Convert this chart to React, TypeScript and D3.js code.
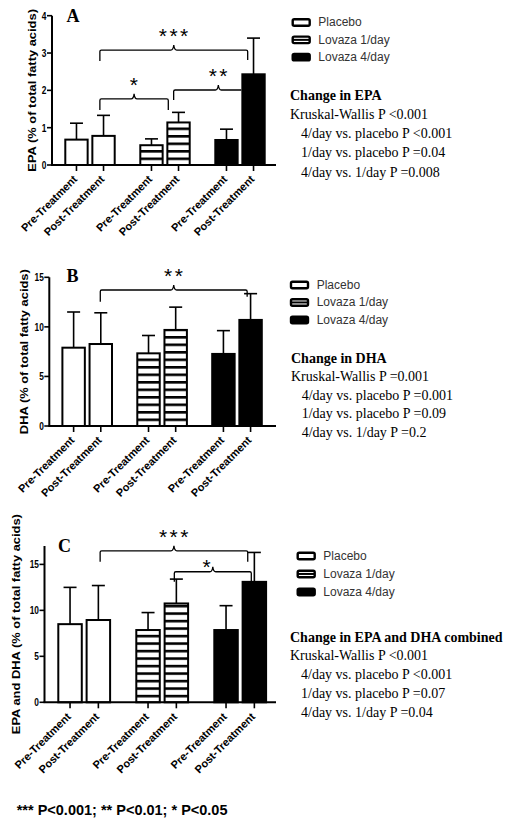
import React from 'react';
import * as d3 from 'd3';

const groups = ['Placebo', 'Lovaza 1/day', 'Lovaza 4/day'];
const timepoints = ['Pre-Treatment', 'Post-Treatment'];

const epaMeans = [0.68, 0.78, 0.53, 1.14, 0.67, 2.43];
const epaSD = [0.44, 0.55, 0.17, 0.27, 0.29, 0.97];
const dhaMeans = [7.9, 8.27, 7.33, 9.69, 7.27, 10.7];
const dhaSD = [3.6, 3.15, 1.8, 2.3, 2.35, 2.65];
const combMeans = [8.5, 8.95, 7.86, 10.75, 7.86, 13.1];
const combSD = [4.0, 3.75, 1.9, 2.65, 2.65, 3.2];

const epaTicks = [0, 1, 2, 3, 4];
const dhaTicks = [0, 5, 10, 15];
const combTicks = [0, 5, 10, 15];

const epaStats = ['Kruskal-Wallis P <0.001', '4/day vs. placebo P <0.001', '1/day vs. placebo P =0.04', '4/day vs. 1/day P =0.008'];
const dhaStats = ['Kruskal-Wallis P =0.001', '4/day vs. placebo P =0.001', '1/day vs. placebo P =0.09', '4/day vs. 1/day P =0.2'];
const combStats = ['Kruskal-Wallis P <0.001', '4/day vs. placebo P <0.001', '1/day vs. placebo P =0.07', '4/day vs. 1/day P =0.04'];

// brackets: bar index (group*2+time), fraction across bar, y level (data units), label
const epaBrackets = [
  { from: 1, fromFrac: 0.35, to: 5, toFrac: 0.26, y: 3.08, label: '***' },
  { from: 1, fromFrac: 0.35, to: 3, toFrac: 0.08, y: 1.77, label: '*' },
  { from: 3, fromFrac: 0.3, to: 5, toFrac: 0.0, y: 2.01, label: '**' },
];
const dhaBrackets = [
  { from: 1, fromFrac: 0.48, to: 5, toFrac: 0.36, y: 13.72, label: '**' },
];
const combBrackets = [
  { from: 1, fromFrac: 0.57, to: 5, toFrac: 0.24, y: 16.48, label: '***' },
  { from: 3, fromFrac: 0.42, to: 5, toFrac: 0.38, y: 14.2, label: '*' },
];

const footnote = '*** P<0.001; ** P<0.01; * P<0.05';

const SANS = 'Liberation Sans, Arial, sans-serif';
const SERIF = 'Liberation Serif, Times New Roman, serif';

type BrStyle = { dropL: number; dropR: number; mid?: number; dx?: number; dy?: number };

type PanelCfg = {
  letter: string;
  yLabel: string;
  means: number[];
  sds: number[];
  ticks: number[];
  yMax: number;
  yRange: [number, number];
  axisX: number;
  axisEnd: number;
  centers: [number, number];
  halfSpan: number;
  letterPos: [number, number];
  yLabelX: number;
  brackets: any[];
  bracketStyle: BrStyle[];
  legend: { x: number; top: number; step: number; textX: number };
  statsTitle: string;
  stats: string[];
  statsPos: { x: number; indent: number; title: number; lines: number[] };
};

const panels: PanelCfg[] = [
  {
    letter: 'A', yLabel: 'EPA (% of total fatty acids)', means: epaMeans, sds: epaSD, ticks: epaTicks, yMax: 4,
    yRange: [165, 15.7], axisX: 52, axisEnd: 276, centers: [90, 240], halfSpan: 25.7,
    letterPos: [66.5, 22], yLabelX: 32.5, brackets: epaBrackets,
    bracketStyle: [{ dropL: 11, dropR: 10 }, { dropL: 11, dropR: 11 }, { dropL: 10, dropR: 0, mid: 0.66 }],
    legend: { x: 291.7, top: 18.3, step: 17.3, textX: 318.3 },
    statsTitle: 'Change in EPA', stats: epaStats,
    statsPos: { x: 290, indent: 301, title: 100, lines: [119, 138.3, 157.3, 176.7] },
  },
  {
    letter: 'B', yLabel: 'DHA (% of total fatty acids)', means: dhaMeans, sds: dhaSD, ticks: dhaTicks, yMax: 15,
    yRange: [426, 277.3], axisX: 49.3, axisEnd: 276, centers: [87.2, 237], halfSpan: 25.8,
    letterPos: [66.5, 282], yLabelX: 24, brackets: dhaBrackets,
    bracketStyle: [{ dropL: 11.7, dropR: 6.7 }],
    legend: { x: 290, top: 280.7, step: 17.5, textX: 316.7 },
    statsTitle: 'Change in DHA', stats: dhaStats,
    statsPos: { x: 291, indent: 301.7, title: 362.7, lines: [380.7, 400, 418.3, 437.3] },
  },
  {
    letter: 'C', yLabel: 'EPA and DHA (% of total fatty acids)', means: combMeans, sds: combSD, ticks: combTicks, yMax: 17,
    yRange: [702.3, 546], axisX: 44.5, axisEnd: 276, centers: [84.2, 240.2], halfSpan: 26.9,
    letterPos: [58, 552], yLabelX: 16, brackets: combBrackets,
    bracketStyle: [{ dropL: 11, dropR: 11 }, { dropL: 10, dropR: 10, dx: -6, dy: 9 }],
    legend: { x: 296.7, top: 551.7, step: 18, textX: 323.3 },
    statsTitle: 'Change in EPA and DHA combined', stats: combStats,
    statsPos: { x: 290, indent: 301, title: 641.7, lines: [660, 679.3, 698.3, 716.7] },
  },
];

function Panel({ cfg, idx }: { cfg: PanelCfg; idx: number }) {
  const y = d3.scaleLinear().domain([0, cfg.yMax]).range(cfg.yRange);
  const gx = d3.scalePoint<string>().domain(groups).range(cfg.centers);
  const inner = d3.scaleBand<string>().domain(timepoints).range([-cfg.halfSpan, cfg.halfSpan]).paddingInner(0.1);
  const bw = inner.bandwidth();
  const bars = groups.flatMap((g, gi) => timepoints.map((t, ti) => {
    const i = gi * 2 + ti;
    const x0 = (gx(g) as number) + (inner(t) as number);
    return { g, gi, t, ti, i, x0, cx: x0 + bw / 2, mean: cfg.means[i], sd: cfg.sds[i] };
  }));
  const y0 = y(0);
  const fills = ['#fff', `url(#stripes${idx})`, '#000'];
  const yTop = y(cfg.yMax);
  const midY = (y0 + yTop) / 2;
  return (
    <g>
      <defs>
        <pattern id={`stripes${idx}`} patternUnits="userSpaceOnUse" width={8} height={7.5} y={y0}>
          <rect width={8} height={7.5} fill="#fff" />
          <rect y={0} width={8} height={2.6} fill="#000" />
        </pattern>
      </defs>
      {bars.map((b) => (
        <g key={b.i}>
          <line x1={b.cx} x2={b.cx} y1={y(b.mean)} y2={y(b.mean + b.sd)} stroke="#000" strokeWidth={1.6} />
          <line x1={b.cx - 6.5} x2={b.cx + 6.5} y1={y(b.mean + b.sd)} y2={y(b.mean + b.sd)} stroke="#000" strokeWidth={1.6} />
          <rect x={b.x0 + 1} y={y(b.mean)} width={bw - 2} height={y0 - y(b.mean)} fill={fills[b.gi]} stroke="#000" strokeWidth={2} />
        </g>
      ))}
      <line x1={cfg.axisX} x2={cfg.axisX} y1={yTop} y2={y0} stroke="#000" strokeWidth={2} />
      {cfg.ticks.map((t) => (
        <g key={t}>
          <line x1={cfg.axisX - 5} x2={cfg.axisX} y1={y(t)} y2={y(t)} stroke="#000" strokeWidth={1.6} />
          <text transform={`translate(${cfg.axisX - 5.5},${y(t)}) scale(0.78,1)`} dy="0.36em" textAnchor="end"
            fontFamily={SANS} fontWeight="bold" fontSize={10.7}>{t}</text>
        </g>
      ))}
      <line x1={cfg.axisX - 1} x2={cfg.axisEnd} y1={y0} y2={y0} stroke="#000" strokeWidth={2} />
      {bars.map((b) => (
        <g key={'xt' + b.i}>
          <line x1={b.cx} x2={b.cx} y1={y0} y2={y0 + 6} stroke="#000" strokeWidth={1.6} />
          <text transform={`translate(${b.cx + 1.5},${y0 + 15}) rotate(-45)`} textAnchor="end"
            fontFamily={SANS} fontWeight="bold" fontSize={11}>{b.t}</text>
        </g>
      ))}
      <text transform={`translate(${cfg.yLabelX},${midY}) scale(0.8,1) rotate(-90)`} textAnchor="middle" dy="0.35em"
        fontFamily={SANS} fontWeight="bold" fontSize={12.9}>{cfg.yLabel}</text>
      <text x={cfg.letterPos[0]} y={cfg.letterPos[1]} fontFamily={SERIF} fontWeight="bold" fontSize={18}>{cfg.letter}</text>
      {cfg.brackets.map((br, k) => {
        const st = cfg.bracketStyle[k];
        const bl = bars[br.from];
        const brr = bars[br.to];
        const xl = bl.x0 + br.fromFrac * bw;
        const xr = brr.x0 + br.toFrac * bw;
        const yy = y(br.y);
        const xm = xl + (st.mid ?? 0.5) * (xr - xl);
        const p = d3.path();
        p.moveTo(xl, yy + st.dropL);
        p.lineTo(xl, yy + 1.5);
        p.quadraticCurveTo(xl, yy, xl + 1.5, yy);
        p.lineTo(xm - 3, yy);
        p.quadraticCurveTo(xm - 0.5, yy, xm, yy - 5);
        p.quadraticCurveTo(xm + 0.5, yy, xm + 3, yy);
        p.lineTo(xr - 1.5, yy);
        if (st.dropR > 0) {
          p.quadraticCurveTo(xr, yy, xr, yy + 1.5);
          p.lineTo(xr, yy + st.dropR);
        } else {
          p.lineTo(xr, yy);
        }
        return (
          <g key={'br' + k}>
            <path d={p.toString()} fill="none" stroke="#000" strokeWidth={1.3} />
            <text x={xm + (st.dx || 0) + 1} y={yy - 7 + (st.dy || 0)} textAnchor="middle" fontFamily={SANS}
              fontSize={21} letterSpacing={2.5}>{br.label}</text>
          </g>
        );
      })}
      {groups.map((g, gi) => {
        const top = cfg.legend.top + gi * cfg.legend.step;
        return (
          <g key={'lg' + gi}>
            <rect x={cfg.legend.x + 1} y={top + 1} width={17} height={6.5} rx={1.5}
              fill={gi === 2 ? '#000' : '#fff'} stroke="#000" strokeWidth={2.4} />
            {gi === 1 && <line x1={cfg.legend.x + 1} x2={cfg.legend.x + 18} y1={top + 4.25} y2={top + 4.25} stroke="#000" strokeWidth={2} />}
            <text x={cfg.legend.textX} y={top + 8} fontFamily={SANS} fontSize={12} fill="#333">{g}</text>
          </g>
        );
      })}
      <text x={cfg.statsPos.x} y={cfg.statsPos.title} fontFamily={SERIF} fontWeight="bold" fontSize={14}>{cfg.statsTitle}</text>
      {cfg.stats.map((s, k) => (
        <text key={'st' + k} x={k === 0 ? cfg.statsPos.x : cfg.statsPos.indent} y={cfg.statsPos.lines[k]}
          fontFamily={SERIF} fontSize={14}>{s}</text>
      ))}
    </g>
  );
}

export default function App() {
  return (
    <div style={{ position: 'absolute', left: 0, top: 0 }}>
      <svg width={512} height={821} style={{ display: 'block', background: '#fff' }}>
        <rect width={512} height={821} fill="#fff" />
        {panels.map((p, i) => <Panel key={i} cfg={p} idx={i} />)}
        <text x={16.7} y={815} fontFamily={SANS} fontWeight="bold" fontSize={14.5}>{footnote}</text>
      </svg>
    </div>
  );
}
